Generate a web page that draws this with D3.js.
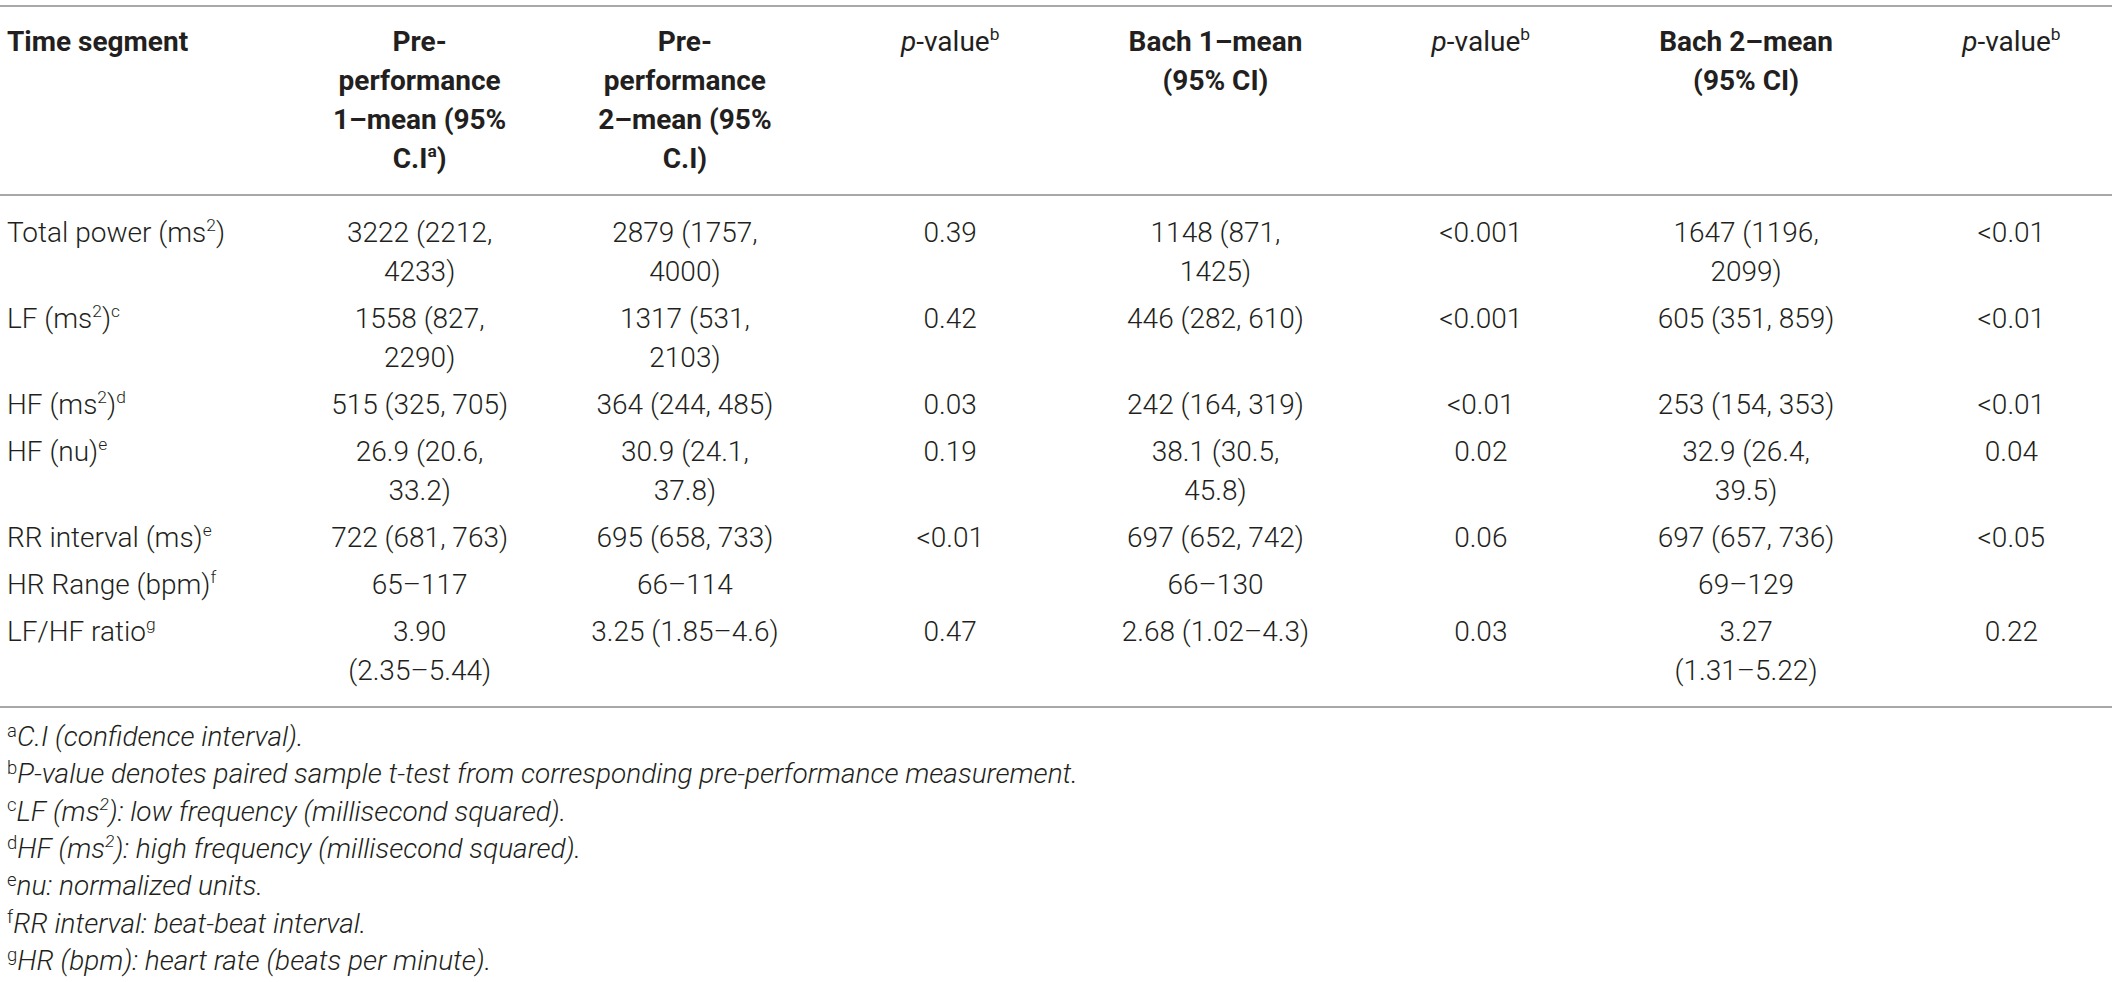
<!DOCTYPE html>
<html>
<head>
<meta charset="utf-8">
<script src="https://cdn.jsdelivr.net/npm/d3@7"></script>
<style>
    html, body { margin: 0; padding: 0; background: #fff; }
    svg { display: block; font-family: Roboto, "Liberation Sans", sans-serif; }
</style>
</head>
<body>
<div id="table-area"></div>
<script>

// ---- table content ("^{x}" = superscript, "*x*" = italic) ----
var headers = ["Time segment",
    "Pre-performance 1–mean (95% C.I^{a})",
    "Pre-performance 2–mean (95% C.I)",
    "*p*-value^{b}",
    "Bach 1–mean (95% CI)",
    "*p*-value^{b}",
    "Bach 2–mean (95% CI)",
    "*p*-value^{b}"];

var segments = ["Total power (ms^{2})", "LF (ms^{2})^{c}", "HF (ms^{2})^{d}", "HF (nu)^{e}",
    "RR interval (ms)^{e}", "HR Range (bpm)^{f}", "LF/HF ratio^{g}"];

var pre1  = ["3222 (2212, 4233)", "1558 (827, 2290)", "515 (325, 705)", "26.9 (20.6, 33.2)",
    "722 (681, 763)", "65–117", "3.90 (2.35–5.44)"];
var pre2  = ["2879 (1757, 4000)", "1317 (531, 2103)", "364 (244, 485)", "30.9 (24.1, 37.8)",
    "695 (658, 733)", "66–114", "3.25 (1.85–4.6)"];
var pPre2 = ["0.39", "0.42", "0.03", "0.19", "<0.01", "", "0.47"];
var bach1 = ["1148 (871, 1425)", "446 (282, 610)", "242 (164, 319)", "38.1 (30.5, 45.8)",
    "697 (652, 742)", "66–130", "2.68 (1.02–4.3)"];
var pBach1 = ["<0.001", "<0.001", "<0.01", "0.02", "0.06", "", "0.03"];
var bach2 = ["1647 (1196, 2099)", "605 (351, 859)", "253 (154, 353)", "32.9 (26.4, 39.5)",
    "697 (657, 736)", "69–129", "3.27 (1.31–5.22)"];
var pBach2 = ["<0.01", "<0.01", "<0.01", "0.04", "<0.05", "", "0.22"];

var noteLetters = ["a", "b", "c", "d", "e", "f", "g"];
var noteTexts = ["C.I (confidence interval).",
    "P-value denotes paired sample t-test from corresponding pre-performance measurement.",
    "LF (ms^{2}): low frequency (millisecond squared).",
    "HF (ms^{2}): high frequency (millisecond squared).",
    "nu: normalized units.",
    "RR interval: beat-beat interval.",
    "HR (bpm): heart rate (beats per minute)."];

var columns = [segments, pre1, pre2, pPre2, bach1, pBach1, bach2, pBach2];

// ---- layout ----
var width = 2118, height = 982;
var fs = 28, lineH = 39;
var textColor = "#231f20", ruleColor = "#a8a8a8";

var svg = d3.select("#table-area").append("svg")
    .attr("width", width)
    .attr("height", height);

// numeric columns share equal bands, the first column is wider
var x = d3.scaleBand()
    .domain(d3.range(1, columns.length))
    .range([287, 2144]);

function colX(i) { return i === 0 ? 7 : x(i) + x.bandwidth() / 2; }

function parseRuns(str) {
    var runs = [], re = /\^\{([^}]*)\}|\*([^*]*)\*|([^^*]+)/g, m;
    while ((m = re.exec(str))) {
        if (m[1] !== undefined) runs.push({ t: m[1], sup: true });
        else if (m[2] !== undefined) runs.push({ t: m[2], it: true });
        else runs.push({ t: m[3] });
    }
    return runs;
}

function drawLine(sel, str, size) {
    var shifted = false;
    parseRuns(str).forEach(function(r) {
        var ts = sel.append("tspan").text(r.t);
        if (r.sup) {
            ts.attr("font-size", size * 0.62).attr("dy", -size * 0.38);
            shifted = true;
        } else if (shifted) {
            ts.attr("dy", size * 0.38);
            shifted = false;
        }
        if (r.it) ts.attr("font-style", "italic");
    });
}

function measure(str, weight) {
    var t = svg.append("text").attr("font-size", fs).attr("font-weight", weight);
    drawLine(t, str, fs);
    var w = t.node().getComputedTextLength();
    t.remove();
    return w;
}

// cell width: wide enough for the longest one-line value of the source table,
// narrow enough to push the next longer ones onto two lines
var wrapW = (measure(pre2[6], 300) + measure(pre1[3], 300)) / 2;

// greedy word wrap, breaking at spaces and after hyphens inside words
function wrap(str, maxW, weight) {
    var tokens = [];
    str.split(" ").forEach(function(word, wi) {
        word.split(/(?<=[A-Za-z]-)(?=[A-Za-z])/).forEach(function(piece, pi) {
            tokens.push({ s: piece, join: (wi > 0 && pi === 0) ? " " : "" });
        });
    });
    var lines = [], line = null;
    tokens.forEach(function(tk) {
        if (line === null) { line = tk.s; return; }
        var cand = line + tk.join + tk.s;
        if (measure(cand, weight) > maxW) { lines.push(line); line = tk.s; }
        else line = cand;
    });
    if (line !== null) lines.push(line);
    return lines;
}

function drawCell(g, lines, i, y0, weight) {
    var t = g.append("text")
        .attr("font-size", fs)
        .attr("font-weight", weight)
        .attr("fill", textColor)
        .attr("text-anchor", i === 0 ? "start" : "middle");
    lines.forEach(function(l, k) {
        var lt = t.append("tspan").attr("x", colX(i)).attr("y", y0 + k * lineH);
        drawLine(lt, l, fs);
    });
}

function rule(y) {
    svg.append("line")
        .attr("x1", 0).attr("x2", 2112)
        .attr("y1", y).attr("y2", y)
        .attr("stroke", ruleColor)
        .attr("stroke-width", 2);
}

// ---- header ----
var topRule = 6;
rule(topRule);
var headG = svg.append("g");
var headBase = topRule + 45;
var headLines = headers.map(function(h, i) {
    var w = /value/.test(h) ? 400 : 700;
    return { lines: wrap(h, i === 0 ? Infinity : wrapW, w), weight: w };
});
headLines.forEach(function(h, i) { drawCell(headG, h.lines, i, headBase, h.weight); });
var headN = d3.max(headLines, function(h) { return h.lines.length; });
var headRule = headBase + (headN - 1) * lineH + 27;
rule(headRule);

// ---- body ----
var bodyG = svg.append("g");
var base = headRule + 47, lastBase = base;
segments.forEach(function(s, r) {
    var cells = columns.map(function(col, i) {
        return col[r] === "" ? [] : wrap(col[r], i === 0 ? Infinity : wrapW, 300);
    });
    cells.forEach(function(lines, i) { drawCell(bodyG, lines, i, base, 300); });
    var n = d3.max(cells, function(c) { return c.length; });
    lastBase = base + (n - 1) * lineH;
    base = lastBase + 47;
});
var bottomRule = lastBase + 27;
rule(bottomRule);

// ---- footnotes ----
var noteG = svg.append("g");
noteLetters.forEach(function(letter, k) {
    var t = noteG.append("text")
        .attr("x", 7)
        .attr("y", bottomRule + 39 + k * 37.3)
        .attr("font-size", fs)
        .attr("font-weight", 300)
        .attr("fill", textColor);
    t.append("tspan").text(letter)
        .attr("font-size", fs * 0.66)
        .attr("dy", -fs * 0.33);
    var body = t.append("tspan").attr("dy", fs * 0.33).attr("font-style", "italic");
    drawLine(body, noteTexts[k], fs);
});

</script>
</body>
</html>
